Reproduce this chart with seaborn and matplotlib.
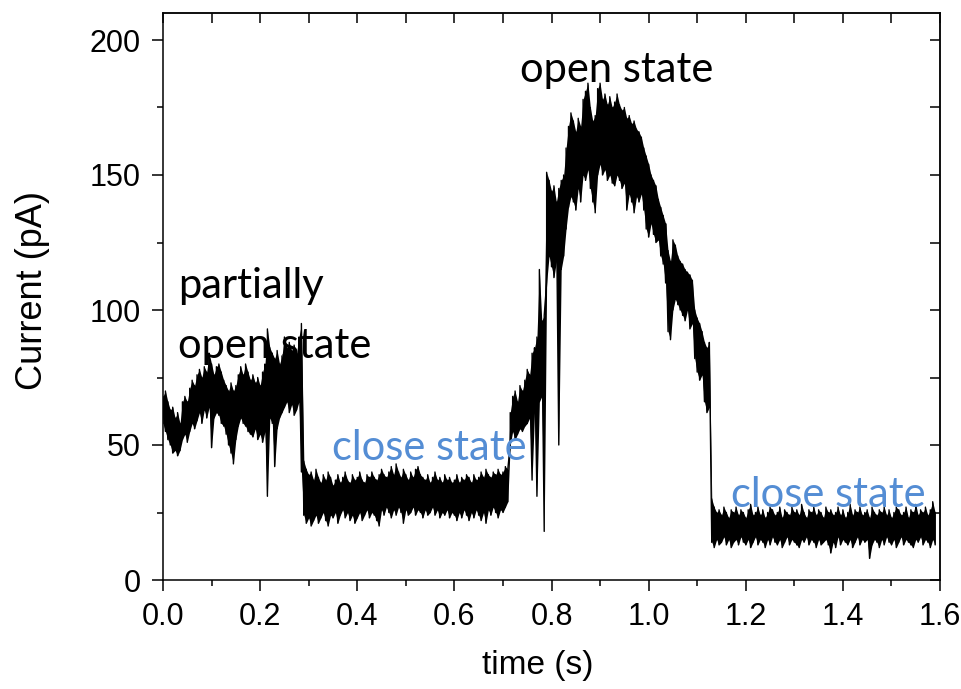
import numpy as np
import pandas as pd
import matplotlib
matplotlib.use("Agg")
import matplotlib.pyplot as plt
import seaborn as sns
from matplotlib.ticker import MultipleLocator, FormatStrFormatter

# Current trace, reduced to the max / min of each 5 ms bin (pA)
DT = 0.005

partial_t0 = 0.0
partial_hi = [68, 70, 66, 63, 64, 60, 62, 58, 66, 68, 66, 71, 74, 72, 76, 78, 75, 79, 77, 84,
              80, 76, 79, 80, 77, 74, 72, 70, 73, 70, 72, 76, 79, 76, 80, 77, 74, 76, 73, 75,
              72, 77, 80, 93, 86, 84, 82, 85, 80, 83, 90, 86, 88, 85, 87, 84, 90, 95]
partial_lo = [58, 55, 52, 50, 47, 48, 46, 48, 52, 54, 51, 55, 58, 56, 59, 62, 58, 63, 60, 64,
              49, 60, 62, 61, 58, 57, 54, 50, 47, 43, 52, 57, 60, 58, 57, 55, 54, 53, 56, 52,
              54, 51, 55, 31, 60, 58, 42, 56, 60, 62, 64, 66, 62, 65, 61, 63, 66, 40]

close1_t0 = 0.290
close1_hi = [44, 41, 39, 40, 37, 41, 38, 36, 39, 37, 40, 38, 35, 37, 39, 36, 38, 40, 37, 36,
             39, 37, 38, 40, 37, 36, 39, 38, 40, 38, 37, 39, 41, 39, 38, 40, 42, 39, 43, 40,
             38, 41, 39, 37, 40, 38, 41, 42, 39, 38, 37, 39, 36, 38, 40, 37, 38, 36, 39, 37,
             38, 36, 37, 39, 36, 38, 37, 39, 38, 36, 39, 37, 38, 40, 38, 41, 39, 38, 40, 39,
             41, 39, 40, 42, 41]
close1_lo = [24, 21, 23, 20, 22, 24, 21, 23, 25, 22, 20, 24, 23, 25, 21, 24, 26, 23, 25, 22,
             24, 21, 23, 25, 22, 24, 26, 23, 25, 24, 22, 20, 26, 24, 27, 25, 23, 26, 24, 27,
             25, 21, 26, 24, 25, 27, 24, 26, 25, 23, 26, 24, 25, 27, 24, 26, 23, 25, 24, 26,
             23, 25, 24, 22, 25, 23, 26, 24, 22, 25, 23, 26, 24, 22, 25, 21, 26, 24, 27, 25,
             23, 26, 25, 27, 29]

rise_t0 = 0.715
rise_hi = [62, 68, 70, 66, 72, 70, 74, 78, 76, 84, 86, 90, 115, 96, 98]
rise_lo = [50, 55, 52, 54, 56, 55, 57, 58, 60, 37, 62, 31, 66, 68, 18]

open_t0 = 0.790
open_hi = [151, 148, 144, 146, 140, 145, 148, 150, 160, 168, 173, 170, 166, 171, 168, 178, 181,
           184, 175, 170, 172, 182, 184, 178, 180, 176, 179, 175, 177, 180, 176, 174, 175, 171,
           172, 169, 170, 167, 166, 164, 160, 157, 154, 150, 148, 146, 141, 138, 135, 132, 122,
           118, 126, 124, 120, 118, 117, 115, 114, 113, 111, 100, 97, 95, 92, 88, 86, 88]
open_lo = [110, 120, 116, 112, 118, 50, 115, 120, 130, 138, 142, 140, 137, 145, 140, 150, 148,
           152, 145, 140, 136, 150, 154, 150, 152, 148, 150, 147, 146, 150, 148, 145, 147, 137,
           143, 140, 136, 142, 140, 143, 137, 130, 127, 132, 128, 125, 126, 120, 117, 110, 92,
           89, 100, 104, 102, 100, 98, 96, 100, 93, 95, 82, 77, 74, 76, 66, 62, 64]

close2_t0 = 1.130
close2_hi = [30, 27, 25, 26, 24, 27, 25, 23, 26, 25, 27, 24, 26, 25, 23, 26, 28, 24, 25, 27,
             24, 26, 23, 25, 27, 26, 24, 25, 27, 23, 26, 25, 24, 27, 25, 26, 24, 28, 25, 23,
             26, 25, 27, 24, 26, 25, 23, 27, 25, 26, 24, 25, 27, 24, 26, 23, 25, 28, 24, 26,
             25, 27, 24, 25, 26, 23, 27, 25, 24, 26, 25, 27, 24, 26, 23, 25, 27, 26, 24, 25,
             27, 23, 26, 25, 28, 24, 26, 25, 27, 24, 26, 29, 25]
close2_lo = [14, 12, 15, 13, 14, 16, 13, 15, 12, 14, 15, 13, 16, 14, 13, 15, 12, 14, 16, 13,
             15, 14, 12, 15, 13, 16, 14, 13, 15, 12, 14, 16, 13, 15, 14, 13, 12, 15, 14, 16,
             13, 15, 14, 12, 15, 13, 14, 15, 13, 10, 14, 12, 16, 13, 15, 14, 13, 15, 12, 14,
             16, 13, 15, 14, 15, 8, 13, 15, 14, 12, 15, 13, 16, 14, 13, 15, 12, 14, 16, 13,
             15, 14, 13, 12, 15, 14, 16, 13, 15, 14, 12, 15, 13]

state_labels = ["partially", "open state", "close state", "open state", "close state"]

segments = [
    (partial_t0, partial_hi, partial_lo),
    (close1_t0, close1_hi, close1_lo),
    (rise_t0, rise_hi, rise_lo),
    (open_t0, open_hi, open_lo),
    (close2_t0, close2_hi, close2_lo),
]

frames = []
for t0, hi, lo in segments:
    t = t0 + DT * np.arange(len(hi))
    frames.append(pd.DataFrame({"time": t, "hi": hi, "lo": lo}))
env = pd.concat(frames, ignore_index=True)

# zig-zag path through each bin's minimum and maximum
trace = pd.DataFrame({
    "time": np.repeat(env["time"].to_numpy(), 2),
    "current": np.column_stack([env["lo"].to_numpy(), env["hi"].to_numpy()]).ravel(),
})

sns.set_style("ticks")
plt.rcParams["font.family"] = ["Liberation Sans", "DejaVu Sans"]
plt.rcParams["text.color"] = "black"
plt.rcParams["axes.labelcolor"] = "black"
plt.rcParams["xtick.color"] = "black"
plt.rcParams["ytick.color"] = "black"

fig = plt.figure(figsize=(9.61, 6.89), dpi=100)
ax = fig.add_axes([163 / 961, 109 / 689, 777 / 961, 567 / 689])

ax.fill_between(env["time"], env["lo"], env["hi"], color="black", lw=0, zorder=2)
sns.lineplot(data=trace, x="time", y="current", sort=False, estimator=None,
             color="black", lw=1.0, ax=ax, zorder=3)

ax.set_xlim(0, 1.6)
ax.set_ylim(0, 210)

ax.xaxis.set_major_locator(MultipleLocator(0.2))
ax.xaxis.set_minor_locator(MultipleLocator(0.1))
ax.xaxis.set_major_formatter(FormatStrFormatter("%.1f"))
ax.yaxis.set_major_locator(MultipleLocator(50))
ax.yaxis.set_minor_locator(MultipleLocator(25))

ax.tick_params(which="major", direction="out", length=8, width=1.1, labelsize=22,
               pad=8, colors="black", labelcolor="black")
ax.tick_params(which="minor", direction="out", length=4, width=1.1, colors="black")

for s in ax.spines.values():
    s.set_linewidth(1.1)
    s.set_color("black")

# inward ticks mirrored on the top and right edges
top = ax.secondary_xaxis("top")
top.xaxis.set_major_locator(MultipleLocator(0.1))
top.tick_params(direction="in", length=7, width=1.1, colors="black",
                labelleft=False, labeltop=False)
top.spines["top"].set_linewidth(1.1)
right = ax.secondary_yaxis("right")
right.yaxis.set_major_locator(MultipleLocator(25))
right.tick_params(direction="in", length=7, width=1.1, colors="black", labelright=False)
right.spines["right"].set_linewidth(1.1)

ax.set_xlabel("time (s)", fontsize=24, va="center", color="black")
ax.set_ylabel("Current (pA)", fontsize=26, va="center", color="black")
ax.xaxis.set_label_coords(0.482, -0.15)
ax.yaxis.set_label_coords(-0.168, 0.51)

ann_font = "Lato"
blue = "#548DD4"
ann_size = 30
ax.text(0.031, 104.4, state_labels[0], fontsize=ann_size, family=ann_font, color="black",
        va="baseline", ha="left", zorder=5)
ax.text(0.031, 82.2, state_labels[1], fontsize=ann_size, family=ann_font, color="black",
        va="baseline", ha="left", zorder=5)
ax.text(0.347, 44.6, state_labels[2], fontsize=ann_size, family=ann_font, color=blue,
        va="baseline", ha="left", zorder=5)
ax.text(0.735, 184.4, state_labels[3], fontsize=ann_size, family=ann_font, color="black",
        va="baseline", ha="left", zorder=5)
ax.text(1.170, 27.0, state_labels[4], fontsize=ann_size, family=ann_font, color=blue,
        va="baseline", ha="left", zorder=5)

fig.savefig("out.png", dpi=100)
